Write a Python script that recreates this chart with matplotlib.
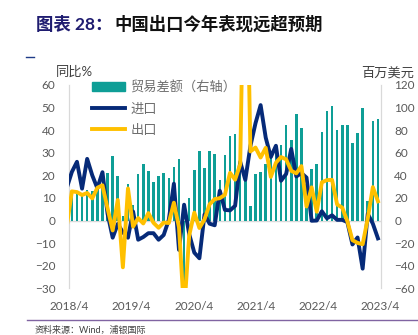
import numpy as np
import pandas as pd
import matplotlib
matplotlib.use("Agg")
import matplotlib.pyplot as plt
from matplotlib.patches import Patch
from matplotlib.lines import Line2D

plt.rcParams['font.family'] = ['Lato', 'Noto Sans CJK SC', 'DejaVu Sans']

# monthly, 2018/3 .. 2023/4
months = [str(p).replace('-0', '/').replace('-', '/') for p in pd.period_range('2018-03', '2023-04', freq='M')]

exports = [-2.7, 12.9, 12.6, 11.3, 12.2, 9.8, 14.5, 15.6, 5.4, -4.4,
           9.1, -20.7, 14.2, -2.7, 1.1, -1.3, 3.3, -1.0, -3.2, -0.9, -1.1, 7.9,
           -3.0, -40.6, -6.6, 3.5, -3.3, 0.5, 7.2, 9.5, 9.9, 11.4, 21.1, 18.1,
           24.9, 154.9, 30.6, 32.3, 27.9, 32.2, 19.3, 25.6, 28.1, 27.1, 22.0, 20.9,
           24.1, 6.2, 14.7, 3.9, 16.9, 17.9, 18.0, 7.1, 5.7, -0.3, -8.7, -9.9,
           -10.5, 0.9, 14.8, 8.5]
imports = [14.4, 21.5, 26.0, 14.1, 27.3, 20.0, 14.3, 21.4, 3.0, -7.6,
           -1.5, -5.2, -7.6, 4.0, -8.5, -7.3, -5.6, -5.6, -8.5, -6.4, 0.3, 16.3,
           -13.0, 7.0, -6.0, -14.2, -16.7, 2.7, -1.4, -2.1, 13.2, 4.7, 4.5, 6.5,
           26.0, 18.0, 33.0, 43.1, 51.1, 36.7, 28.1, 33.1, 17.6, 20.6, 31.7, 19.5,
           21.0, 19.0, -0.1, 0.0, 4.1, 1.0, 2.3, 0.3, 0.3, -0.7, -10.6, -7.5,
           -21.3, 3.0, -1.4, -7.9]
balance = [-5.0, 26.5, 24.5, 24.0, 27.0, 26.0, 28.0, 32.0, 42.0, 57.0,
           39.0, 4.0, 32.0, 13.5, 41.5, 50.0, 44.0, 34.5, 39.0, 42.0, 37.5, 47.0,
           54.5, -61.0, 20.0, 45.0, 62.0, 46.5, 62.0, 58.5, 36.0, 58.0, 75.0, 77.0,
           66.0, 36.0, 12.5, 41.0, 43.0, 50.0, 56.0, 60.0, 67.0, 84.5, 71.5, 94.0,
           82.0, 32.0, 46.0, 50.0, 78.5, 97.0, 101.5, 80.0, 84.5, 84.5, 69.0, 77.5,
           100.0, 17.0, 88.0, 90.0]
xlabels = ['2018/4', '2019/4', '2020/4', '2021/4', '2022/4', '2023/4']

teal = '#0E9E96'
navy = '#062A78'
gold = '#FFC000'
grey = '#595959'

x = np.arange(len(months))

fig = plt.figure(figsize=(4.18, 3.35), dpi=100)
ax = fig.add_axes([0.1658, 0.1394, 0.7445, 0.6069])
ax2 = ax.twinx()
ax.set_zorder(ax2.get_zorder() + 1)
ax.patch.set_visible(False)

ax2.bar(x, balance, width=0.5, color=teal, zorder=2)
ax2.axhline(0, color='#D9D9D9', lw=1, zorder=1)
ax.plot(x, imports, color=navy, lw=2.8, zorder=3)
ax.plot(x, exports, color=gold, lw=2.8, zorder=4)

xmin, xmax = 0.5, len(months) - 0.5
ax.set_xlim(xmin, xmax)
ax.set_ylim(-30, 60)
ax2.set_ylim(-60, 120)
ax.set_yticks(np.arange(-30, 61, 10))
ax2.set_yticks(np.arange(-60, 121, 20))
ax.set_xticks(np.linspace(xmin, xmax, len(xlabels)))
ax.set_xticklabels(xlabels)

for a in (ax, ax2):
    for s in ('top', 'bottom'):
        a.spines[s].set_visible(False)
    a.spines['left'].set_color('#D9D9D9')
    a.spines['right'].set_color('#D9D9D9')
    a.tick_params(length=0, labelsize=8.5, labelcolor=grey)
ax.tick_params(axis='y', pad=10)
ax2.tick_params(axis='y', pad=10)
ax.tick_params(axis='x', pad=9)

handles = [Patch(color=teal), Line2D([], [], color=navy, lw=2.8), Line2D([], [], color=gold, lw=2.8)]
fig.legend(handles, ['贸易差额（右轴）', '进口', '出口'], loc='upper left',
           bbox_to_anchor=(92 / 418, 1 - 80 / 335), frameon=False, fontsize=9.5,
           labelcolor='#6E6E6E', handlelength=2.5, handletextpad=0.4, labelspacing=0.7,
           borderpad=0, borderaxespad=0)

fig.text(74 / 418, 1 - 72 / 335, '同比%', ha='center', va='center', fontsize=9.5, color='#404040')
fig.text(388 / 418, 1 - 72 / 335, '百万美元', ha='center', va='center', fontsize=9.5, color='#404040')

t1 = fig.text(36 / 418, 1 - 24 / 335, '图表 28：', ha='left', va='center', fontsize=12.5,
              fontweight='bold', color='#1F1C70')
fig.canvas.draw()
bb = t1.get_window_extent()
fig.text(bb.x1 / fig.bbox.width + 0.005, 1 - 24 / 335, '中国出口今年表现远超预期', ha='left', va='center',
         fontsize=12.5, fontweight='bold', color='#111111')

fig.add_artist(Line2D([26 / 418, 34 / 418], [1 - 57 / 335] * 2, color='#1F3C88', lw=1))
fig.add_artist(Line2D([27 / 418, 1.0], [1 - 320 / 335] * 2, color='#8064A2', lw=1))
fig.text(35 / 418, 1 - 330 / 335, '资料来源：Wind，浦银国际', ha='left', va='center', fontsize=6.5, color='#404040')

fig.savefig('out.png', dpi=100)
